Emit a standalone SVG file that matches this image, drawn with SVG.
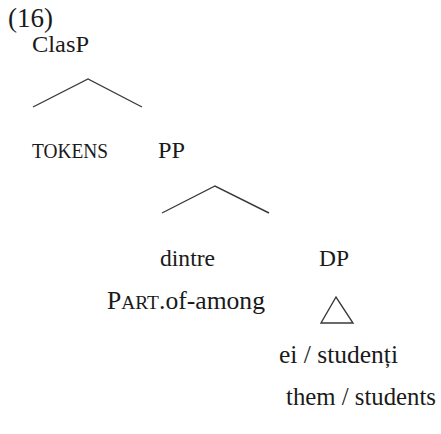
<svg xmlns="http://www.w3.org/2000/svg" width="441" height="434" viewBox="0 0 441 434">
<style>
text { font-family: 'Liberation Serif', 'Times New Roman', serif; fill: #1a1a1a; }
.lbl { font-size: 24px; }
.edge { fill: none; stroke: #3a3a3a; stroke-width: 1.4; stroke-linejoin: miter; }
</style>
<rect width="441" height="434" fill="#ffffff"/>
<g id="connectors">
  <path class="edge" d="M33,107 L88,79 L142,107"/>
  <path class="edge" d="M162,213 L215,186 L269,213"/>
  <path class="edge" d="M336,297 L321,323 L353,323 Z"/>
</g>
<g id="label-16"><text x="8" y="27" font-size="27" textLength="45" lengthAdjust="spacingAndGlyphs">(16)</text></g>
<g id="node-ClasP"><text class="lbl" x="32" y="52" textLength="57" lengthAdjust="spacingAndGlyphs">ClasP</text></g>
<g id="node-TOKENS"><text x="32" y="158" font-size="20" textLength="76" lengthAdjust="spacingAndGlyphs">TOKENS</text></g>
<g id="node-PP"><text class="lbl" x="158" y="158" textLength="27" lengthAdjust="spacingAndGlyphs">PP</text></g>
<g id="node-dintre"><text class="lbl" x="160" y="266" textLength="55" lengthAdjust="spacingAndGlyphs">dintre</text></g>
<g id="node-DP"><text class="lbl" x="319" y="266" textLength="30" lengthAdjust="spacingAndGlyphs">DP</text></g>
<g id="node-gloss-dintre"><text x="107" y="309" font-size="25" textLength="158" lengthAdjust="spacingAndGlyphs">P<tspan font-size="19">ART</tspan>.of-among</text></g>
<g id="node-ei"><text x="279" y="363" font-size="25" textLength="119" lengthAdjust="spacingAndGlyphs">ei / studenți</text></g>
<g id="node-them"><text x="286" y="405" font-size="26" textLength="150" lengthAdjust="spacingAndGlyphs">them / students</text></g>
</svg>
